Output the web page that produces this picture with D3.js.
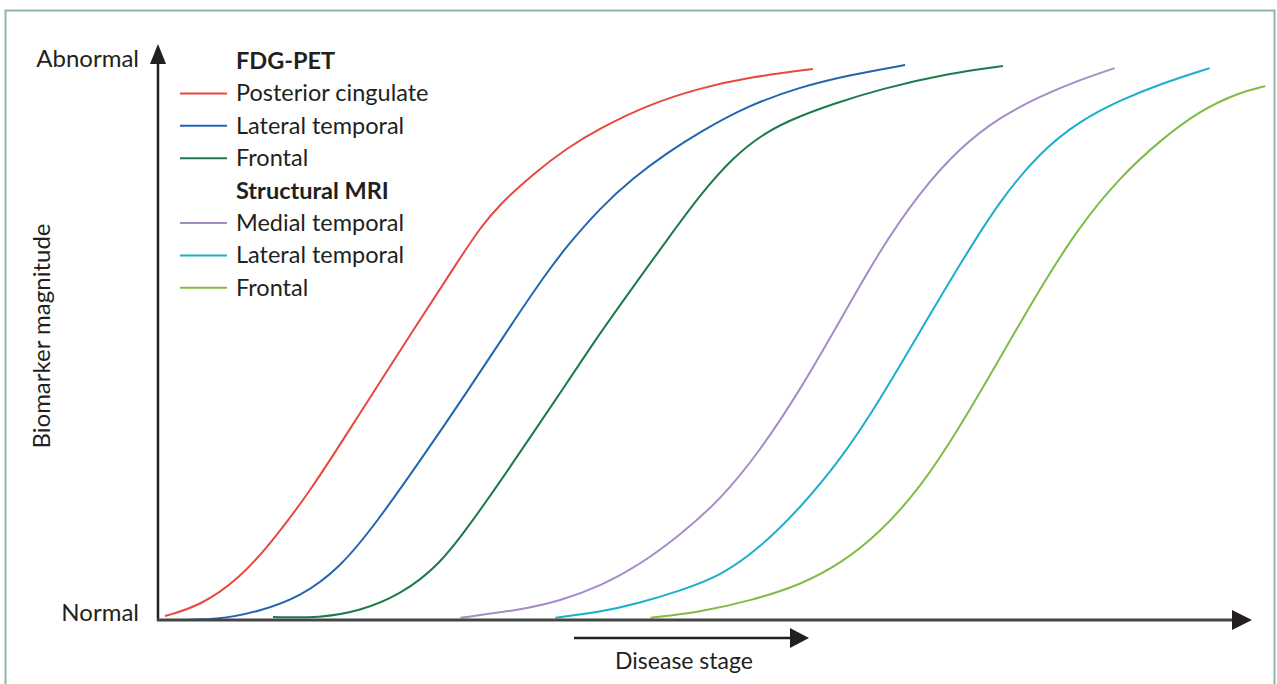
<!DOCTYPE html>
<html><head><meta charset="utf-8">
<script src="https://cdn.jsdelivr.net/npm/d3@7"></script>
<style>
html,body{margin:0;padding:0;background:#fff;}
svg{display:block;}
text{font-family:Lato,"Open Sans",sans-serif;fill:#231f20;}
</style></head>
<body>
<svg id="chart" width="1277" height="684"></svg>
<script>
// Data: disease stage (0-100) vs biomarker magnitude (0 = normal, 100 = abnormal)
const fdgPosteriorCingulate = [[0.64,0.71],[3.85,2.49],[7.51,7.47],[10.26,13.52],[13.92,22.78],[18.50,36.83],[23.08,50.71],[27.66,64.41],[29.49,69.75],[31.32,74.02],[34.34,79.36],[37.45,83.99],[40.48,87.54],[45.05,91.81],[49.63,94.66],[54.21,96.62],[59.98,98.04]];
const fdgLateralTemporal = [[0.18,0],[5.68,0],[9.34,1.60],[13.00,4.09],[16.67,9.25],[20.05,17.44],[23.99,28.29],[28.30,40.57],[32.51,53.02],[35.44,61.39],[37.45,66.55],[40.48,73.31],[43.50,78.65],[46.61,83.10],[49.63,86.83],[53.94,91.46],[58.79,94.84],[63.37,96.98],[68.41,98.75]];
const fdgFrontal = [[10.53,0.53],[14.84,0.36],[18.50,1.60],[22.16,4.45],[25.82,9.79],[28.85,17.79],[31.32,24.56],[34.34,33.27],[37.45,42.17],[40.48,51.07],[43.50,59.25],[46.61,67.62],[49.63,75.62],[52.66,82.38],[55.77,87.01],[58.79,89.68],[61.81,91.81],[66.12,94.48],[72.53,97.33],[77.38,98.58]];
const mriMedialTemporal = [[27.7,0.4],[33.2,1.8],[36.8,3.4],[40.5,6.0],[44.1,9.8],[47.8,15.1],[51.5,21.4],[55.1,30.0],[58.8,40.9],[62.5,53.4],[66.1,65.8],[69.8,76.2],[73.4,84.0],[77.1,89.5],[80.8,93.2],[84.4,96.1],[87.6,98.2]];
const mriLateralTemporal = [[36.4,0.4],[40.5,1.4],[44.1,3.0],[47.8,5.2],[51.5,7.8],[55.1,12.8],[58.8,19.9],[62.5,28.5],[66.1,39.1],[69.8,51.4],[73.4,63.2],[77.1,74.7],[80.8,83.3],[84.4,88.8],[88.1,92.5],[91.8,95.4],[96.3,98.2]];
const mriFrontal = [[45.1,0.4],[49.6,1.4],[54.2,3.4],[58.8,6.2],[62.5,10.0],[66.1,15.5],[69.8,23.5],[73.4,34.2],[77.1,46.6],[80.8,59.1],[84.4,70.1],[88.1,78.8],[91.8,85.4],[95.4,90.6],[98.9,93.8],[101.4,95.0]];

const groupTitles = ["FDG-PET", "Structural MRI"];
const seriesNames = ["Posterior cingulate","Lateral temporal","Frontal","Medial temporal","Lateral temporal","Frontal"];
const seriesGroups = [0,0,0,1,1,1];
const seriesColors = ["#e8483d","#2266b0","#1d7a4a","#a68cc7","#1aafcb","#7fbc46"];
const seriesData = [fdgPosteriorCingulate, fdgLateralTemporal, fdgFrontal, mriMedialTemporal, mriLateralTemporal, mriFrontal];
const yTickLabels = ["Normal","Abnormal"];
const xAxisLabel = "Disease stage";
const yAxisLabel = "Biomarker magnitude";

const svg = d3.select("#chart");
const x0 = 158, x1 = 1250, yBase = 620, yTop = 58;
const x = d3.scaleLinear().domain([0,100]).range([x0, x1]);
const y = d3.scaleLinear().domain([0,100]).range([yBase, yTop]);

// frame
svg.append("path").attr("d","M5.5,690 V10.5 H1274.5 V690")
  .attr("fill","none").attr("stroke","#8fb4aa").attr("stroke-width",2);

// curves
const line = d3.line().x(d=>x(d[0])).y(d=>y(d[1])).curve(d3.curveBasis);
svg.selectAll("path.series").data(seriesData).join("path")
  .attr("class","series")
  .attr("d", line)
  .attr("fill","none")
  .attr("stroke",(d,i)=>seriesColors[i])
  .attr("stroke-width",2);

// axes
const axisColor = "#231f20";
svg.append("line").attr("x1",x0).attr("x2",x0).attr("y1",yBase+1).attr("y2",60)
  .attr("stroke",axisColor).attr("stroke-width",2.5);
svg.append("line").attr("x1",x0-1).attr("x2",1236).attr("y1",yBase).attr("y2",yBase)
  .attr("stroke","#444").attr("stroke-width",3);
svg.append("path").attr("d",`M${x0},44 L${x0-8},64 L${x0+8},64 Z`).attr("fill",axisColor);
svg.append("path").attr("d",`M1252,${yBase} L1232,${yBase-10} L1232,${yBase+10} Z`).attr("fill",axisColor);

// disease stage arrow
svg.append("line").attr("x1",574).attr("x2",793).attr("y1",638).attr("y2",638)
  .attr("stroke",axisColor).attr("stroke-width",2.5);
svg.append("path").attr("d","M809,638 L790,628 L790,648 Z").attr("fill",axisColor);
svg.append("text").attr("x",684).attr("y",669).attr("text-anchor","middle")
  .attr("font-size",23).text(xAxisLabel);

// y labels
svg.append("text").attr("x",139).attr("y",67).attr("text-anchor","end").attr("font-size",24).text(yTickLabels[1]);
svg.append("text").attr("x",139).attr("y",621).attr("text-anchor","end").attr("font-size",24).text(yTickLabels[0]);
svg.append("text").attr("transform","translate(50,336) rotate(-90)").attr("text-anchor","middle")
  .attr("font-size",24).text(yAxisLabel);

// legend
const rowH = 32.4, legTop = 61;
const rows = [];
let ri = 0;
groupTitles.forEach((g,gi)=>{
  rows.push({type:"title", text:g, row:ri++});
  seriesNames.forEach((n,si)=>{ if(seriesGroups[si]===gi) rows.push({type:"item", text:n, color:seriesColors[si], row:ri++}); });
});
const leg = svg.append("g");
rows.forEach(r=>{
  const cy = legTop + r.row*rowH;
  if(r.type==="item"){
    leg.append("line").attr("x1",180).attr("x2",227).attr("y1",cy).attr("y2",cy)
      .attr("stroke",r.color).attr("stroke-width",2);
  }
  leg.append("text").attr("x",236).attr("y",cy+8).attr("font-size",23.5)
    .attr("font-weight", r.type==="title"?"bold":"normal").text(r.text);
});
</script>
</body></html>
